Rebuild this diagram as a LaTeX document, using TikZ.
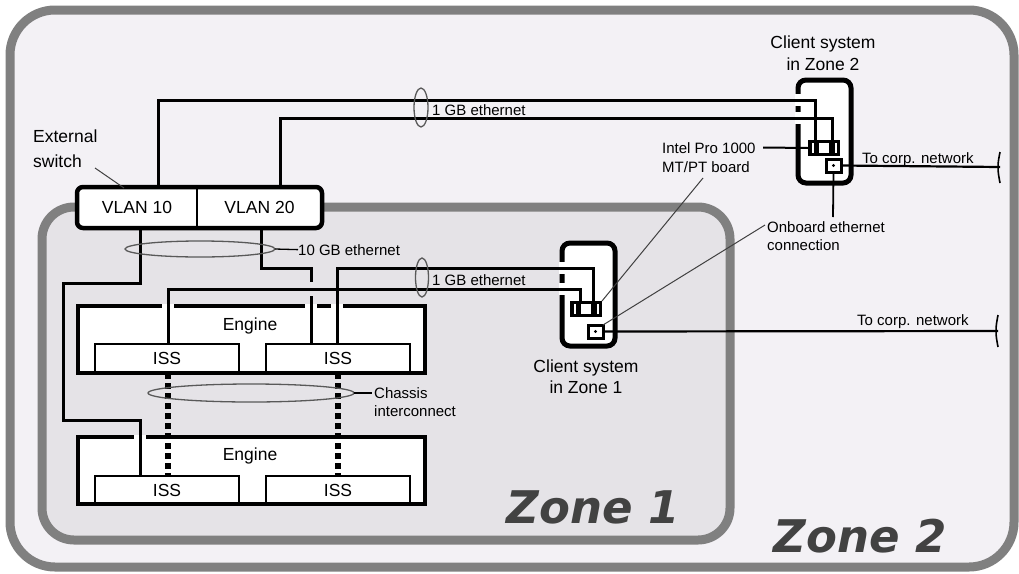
\documentclass[tikz,border=0pt]{standalone}
\usepackage{fontspec}
\setmainfont{Liberation Sans}
\newfontfamily\zonefont{DejaVu Sans}
\usetikzlibrary{calc}
\definecolor{ztwo}{RGB}{243,241,245}
\definecolor{zone}{RGB}{229,227,231}
\definecolor{zborder}{RGB}{128,128,128}
\definecolor{zlabel}{RGB}{66,66,66}
\begin{document}
\begin{tikzpicture}[x=1pt,y=-1pt,
  wire/.style={line width=3pt, black},
  lead/.style={line width=1pt, black!75},
  ell/.style={line width=1.3pt, black!65},
  small/.style={font=\fontsize{15}{18}\selectfont, inner sep=0pt},
  big/.style={font=\fontsize{17.5}{21}\selectfont, inner sep=0pt},
  zonelbl/.style={font=\zonefont\bfseries\itshape\fontsize{45}{50}\selectfont, text=zlabel, inner sep=0pt},
  zonebox/.style={draw=zborder, line width=9pt},
  engbox/.style={fill=white, draw=black, line width=4.5pt, inner sep=0pt, outer sep=0pt, anchor=north west, minimum width=347pt, minimum height=67pt},
  issbox/.style={fill=white, draw=black, line width=1.3pt, inner sep=0pt, outer sep=0pt, anchor=south west, minimum width=144pt, minimum height=29pt, font=\fontsize{17.5}{21}\selectfont},
  vlanbox/.style={inner sep=0pt, outer sep=0pt, anchor=north west, minimum height=41pt, font=\fontsize{17.5}{21}\selectfont},
  clientbox/.style={fill=white, draw=black, line width=5pt, rounded corners=8pt, inner sep=0pt, outer sep=0pt, anchor=north west, minimum width=53pt, minimum height=103pt},
  board/.style={fill=black, inner sep=0pt, outer sep=0pt, anchor=north west, minimum width=32pt, minimum height=16pt},
  portbox/.style={fill=white, draw=black, line width=3pt, inner sep=0pt, outer sep=0pt, anchor=north west, minimum width=15pt, minimum height=13pt},
  gapfill/.style={fill=white, draw=none},
  ichain/.style={line width=5.5pt, black, dash pattern=on 6pt off 4pt},
]
\useasboundingbox (0,0) rectangle (1019,573);
\fill[white] (0,0) rectangle (1019,573);
% zones
\draw[zonebox, fill=ztwo, rounded corners=45pt] (10,10) rectangle (1014,567);
\draw[zonebox, fill=zone, rounded corners=32pt] (42,207) rectangle (730,540);
\node[zonelbl, anchor=base] (z1lbl) at (593,523) {Zone 1};
\node[zonelbl, anchor=base] (z2lbl) at (860,552) {Zone 2};

% engines
\node[engbox] (eng1) at (78,306) {};
\node[issbox] (iss1a) at (95,373) {ISS};
\node[issbox] (iss1b) at (266,373) {ISS};
\draw[line width=4.5pt] (eng1.north west) rectangle (eng1.south east);
\node[big, anchor=base] (eng1lbl) at (250,330) {Engine};

\node[engbox] (eng2) at (78,437) {};
\node[issbox] (iss2a) at (95,505) {ISS};
\node[issbox] (iss2b) at (266,505) {ISS};
\draw[line width=4.5pt] (eng2.north west) rectangle (eng2.south east);
\node[big, anchor=base] (eng2lbl) at (250,460) {Engine};

% switch
\fill[white, rounded corners=6pt] (77,187) rectangle (322,228);
\node[vlanbox, minimum width=120pt] (vlan10) at (77,187) {VLAN 10};
\node[vlanbox, minimum width=125pt] (vlan20) at (197,187) {VLAN 20};
\draw[line width=4.5pt, rounded corners=6pt] (vlan10.north west) rectangle (vlan20.south east);
\draw[line width=2.5pt] (vlan10.north east) -- (vlan10.south east);
\node[big, anchor=base west] (extsw1) at (33,142) {External};
\node[big, anchor=base west] (extsw2) at (33,167) {switch};
\coordinate (extlead) at (95,168);
\coordinate (swtop) at (124,188);
\draw[lead] (extlead) -- (swtop);

% clients
\node[clientbox] (cl2) at (798,80) {};
\node[clientbox] (cl1) at (562,243) {};
\node[board] (intel2) at (808,140) {};
\node[board] (intel1) at (570,301) {};
\foreach \b in {intel1,intel2}{
  \fill[white] ($(\b.north west)+(11,3)$) rectangle ($(\b.north west)+(21,13)$);
  \fill[white] ($(\b.north west)+(3.5,3)$) rectangle ($(\b.north west)+(5.5,13)$);
  \fill[white] ($(\b.north west)+(26.5,3)$) rectangle ($(\b.north west)+(28.5,13)$);
}
\node[portbox] (port2) at (826,159) {};
\node[portbox] (port1) at (588,325) {};
\fill (port1.center) circle (1.6pt);
\fill (port2.center) circle (1.6pt);
\node[big, anchor=base] (cl2t1) at (823,48) {Client system};
\node[big, anchor=base] (cl2t2) at (823,70) {in Zone 2};
\node[big, anchor=base] (cl1t1) at (586,372) {Client system};
\node[big, anchor=base] (cl1t2) at (586,393) {in Zone 1};

% gaps where wires cross box borders
\foreach \x in {168,311,337}{ \fill[gapfill] (\x-6,303.5) rectangle (\x+6,308.5); }
\fill[gapfill] (134,434.5) rectangle (146,439.5);
\foreach \y in {100,118}{ \fill[gapfill] (795,\y-6) rectangle (801,\y+6); }
\foreach \y in {268,289}{ \fill[gapfill] (559,\y-6) rectangle (565,\y+6); }

% wire end points
\coordinate (w1s) at (158,187);
\coordinate (w1e) at (815,140);
\coordinate (w2s) at (280,187);
\coordinate (w2e) at (832,140);
\coordinate (w3s) at (140,228);
\coordinate (w3e) at (140,476);
\coordinate (w4s) at (261,228);
\coordinate (w4h1) at (311,282);
\coordinate (w4h2) at (311,296);
\coordinate (w4e) at (311,344);
\coordinate (w5s) at (337,344);
\coordinate (w5e) at (593,301);
\coordinate (w6s) at (168,344);
\coordinate (w6e) at (580,301);

\draw[wire] (w1s) -- (158,100) -- (815,100) -- (w1e);
\draw[wire] (w2s) -- (280,118) -- (832,118) -- (w2e);
\draw[wire] (w3s) -- (140,283) -- (63,283) -- (63,420) -- (140,420) -- (w3e);
\draw[wire] (w4s) -- (261,268) -- (311,268) -- (w4h1);
\draw[wire] (w4h2) -- (w4e);
\draw[wire] (w5s) -- (337,268) -- (593,268) -- (w5e);
\draw[wire] (w6s) -- (168,289) -- (580,289) -- (w6e);

% chassis interconnect
\coordinate (ic1s) at (168,373);
\coordinate (ic1e) at (168,476);
\coordinate (ic2s) at (338,373);
\coordinate (ic2e) at (338,476);
\draw[ichain] (ic1s) -- (ic1e);
\draw[ichain] (ic2s) -- (ic2e);

% to corporate network
\coordinate (net2) at (1000,167);
\coordinate (net1) at (998,331);
\draw[wire, line width=2.2pt] (port2.east) -- (net2);
\draw[wire, line width=2.2pt] (port1.east) -- (net1);
\draw[line width=1.6pt] (1000,152) to[out=-100,in=90] (998,167) to[out=-90,in=100] (1000,183);
\draw[line width=1.6pt] (998,315) to[out=-100,in=90] (996,331) to[out=-90,in=100] (998,347);
\node[small, anchor=base west] (corp2) at (862,163) {To corp. network};
\node[small, anchor=base west] (corp1) at (857,325) {To corp. network};

% ellipses and labels
\draw[ell] (200,249) ellipse [x radius=75pt, y radius=8pt];
\draw[ell] (251,393) ellipse [x radius=103pt, y radius=9pt];
\draw[ell] (421,107.5) ellipse [x radius=7pt, y radius=19.5pt];
\draw[ell] (422,277.5) ellipse [x radius=6.5pt, y radius=19.5pt];
\node[small, anchor=base west] (tenlbl) at (298,255) {10 GB ethernet};
\draw[lead, line width=1.3pt, black] (275,249) -- (tenlbl.west);
\node[small, anchor=base west] (chas1) at (374,398) {Chassis};
\node[small, anchor=base west] (chas2) at (374,416) {interconnect};
\draw[lead, line width=1.3pt, black] (354,393) -- (372,393);
\node[small, anchor=base west] (one2) at (432,115) {1 GB ethernet};
\node[small, anchor=base west] (one1) at (432,285) {1 GB ethernet};

% board and onboard annotations
\node[small, anchor=base west] (intl1) at (662,153) {Intel Pro 1000};
\node[small, anchor=base west] (intl2) at (662,172) {MT/PT board};
\coordinate (intlend) at (763,147.5);
\draw[line width=2pt] (intlend) -- (intel2.west);
\coordinate (intlfoot) at (703,178);
\draw[lead] (intlfoot) -- (intel1.north east);
\node[small, anchor=base west] (onb1) at (767,232) {Onboard ethernet};
\node[small, anchor=base west] (onb2) at (767,250) {connection};
\coordinate (onbtop) at (833,217);
\draw[line width=1.8pt] (port2.south) -- (onbtop);
\coordinate (onbfoot) at (765,225);
\draw[lead] (onbfoot) -- (port1.north east);
\end{tikzpicture}
\end{document}
